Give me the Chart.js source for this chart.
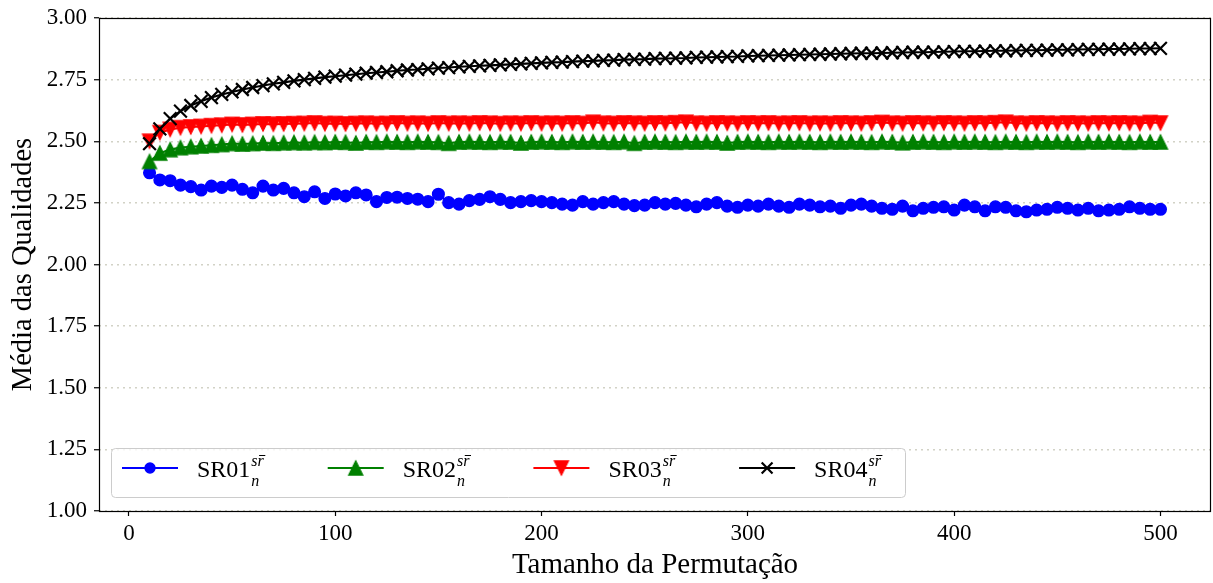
<!DOCTYPE html>
<html>
<head>
<meta charset="utf-8">
<script src="https://cdn.jsdelivr.net/npm/chart.js@4.4.0/dist/chart.umd.min.js"></script>
<style>
  html, body { margin: 0; padding: 0; background: #fff; }
  #wrap { width: 1213px; height: 583px; }
</style>
</head>
<body>
<div id="wrap"><canvas id="chart" width="1213" height="583"></canvas></div>
<script>
const sizes = [10,15,20,25,30,35,40,45,50,55,60,65,70,75,80,85,90,95,100,
  105,110,115,120,125,130,135,140,145,150,155,160,165,170,175,180,185,190,195,200,
  205,210,215,220,225,230,235,240,245,250,255,260,265,270,275,280,285,290,295,300,
  305,310,315,320,325,330,335,340,345,350,355,360,365,370,375,380,385,390,395,400,
  405,410,415,420,425,430,435,440,445,450,455,460,465,470,475,480,485,490,495,500];

const sr01 = [2.372,2.343,2.340,2.322,2.316,2.302,2.318,2.313,2.322,2.305,2.291,2.318,2.302,2.309,2.291,2.275,2.295,2.268,2.286,
  2.278,2.291,2.282,2.255,2.272,2.273,2.268,2.265,2.255,2.285,2.251,2.245,2.259,2.264,2.275,2.264,2.251,2.255,2.259,2.255,
  2.251,2.245,2.241,2.255,2.245,2.251,2.255,2.245,2.239,2.241,2.251,2.245,2.248,2.241,2.234,2.245,2.251,2.237,2.232,2.241,
  2.237,2.245,2.237,2.232,2.245,2.241,2.234,2.237,2.228,2.241,2.245,2.237,2.228,2.224,2.237,2.218,2.228,2.232,2.234,2.221,
  2.241,2.234,2.218,2.234,2.232,2.218,2.214,2.221,2.224,2.232,2.228,2.221,2.228,2.218,2.221,2.224,2.234,2.228,2.224,2.224];

const sr02 = [2.418,2.452,2.466,2.474,2.478,2.481,2.484,2.487,2.491,2.489,2.491,2.493,2.492,2.494,2.495,2.494,2.496,2.495,2.497,
  2.496,2.493,2.497,2.496,2.498,2.497,2.496,2.498,2.497,2.496,2.492,2.497,2.498,2.497,2.496,2.498,2.497,2.493,2.497,2.498,
  2.497,2.496,2.498,2.497,2.498,2.497,2.496,2.498,2.492,2.497,2.498,2.497,2.496,2.498,2.497,2.498,2.497,2.493,2.497,2.498,
  2.497,2.496,2.498,2.497,2.498,2.497,2.496,2.498,2.497,2.498,2.497,2.496,2.498,2.497,2.494,2.497,2.498,2.497,2.496,2.498,
  2.497,2.498,2.497,2.496,2.498,2.497,2.496,2.498,2.497,2.498,2.497,2.496,2.498,2.497,2.498,2.497,2.496,2.498,2.497,2.497];

const sr03 = [2.500,2.535,2.548,2.555,2.558,2.560,2.563,2.565,2.568,2.566,2.568,2.570,2.569,2.570,2.571,2.572,2.574,2.571,2.572,
  2.570,2.572,2.573,2.571,2.572,2.574,2.572,2.573,2.571,2.574,2.572,2.573,2.572,2.574,2.573,2.571,2.573,2.572,2.574,2.572,
  2.573,2.572,2.574,2.572,2.577,2.573,2.572,2.574,2.573,2.572,2.574,2.573,2.575,2.577,2.573,2.572,2.574,2.573,2.572,2.574,
  2.573,2.574,2.572,2.573,2.574,2.572,2.573,2.572,2.574,2.573,2.572,2.574,2.576,2.573,2.572,2.574,2.573,2.572,2.574,2.573,
  2.572,2.574,2.573,2.575,2.577,2.573,2.572,2.574,2.573,2.572,2.574,2.573,2.572,2.574,2.573,2.574,2.573,2.572,2.576,2.574];

const sr04 = [2.490,2.550,2.592,2.622,2.645,2.662,2.677,2.690,2.700,2.710,2.718,2.726,2.733,2.739,2.745,2.750,2.755,2.760,2.764,
  2.768,2.772,2.776,2.779,2.782,2.786,2.789,2.791,2.794,2.797,2.799,2.802,2.804,2.806,2.808,2.810,2.812,2.814,2.816,2.818,
  2.820,2.821,2.823,2.825,2.826,2.828,2.829,2.831,2.832,2.833,2.835,2.836,2.837,2.838,2.840,2.841,2.842,2.843,2.844,2.846,
  2.847,2.848,2.849,2.850,2.851,2.852,2.853,2.854,2.855,2.856,2.857,2.857,2.858,2.859,2.860,2.861,2.861,2.862,2.863,2.864,
  2.865,2.865,2.866,2.867,2.867,2.868,2.869,2.869,2.870,2.871,2.871,2.872,2.873,2.873,2.874,2.874,2.875,2.876,2.876,2.877];

const xTicks = [0, 100, 200, 300, 400, 500];
const seriesNames = ['SR01', 'SR02', 'SR03', 'SR04'];
const seriesColors = ['#0000ff', '#008000', '#ff0000', '#000000'];

const FONT = '"Liberation Serif", "Times New Roman", serif';

// matplotlib-like triangle marker, centred on its bounding box
function triangle(color, down){
    const c = document.createElement('canvas');
    c.width = 20; c.height = 20;
    const g = c.getContext('2d');
    const s = 7;
    g.beginPath();
    if(down){
        g.moveTo(10 - s, 10 - s); g.lineTo(10 + s, 10 - s); g.lineTo(10, 10 + s);
    } else {
        g.moveTo(10 - s, 10 + s); g.lineTo(10 + s, 10 + s); g.lineTo(10, 10 - s);
    }
    g.closePath();
    g.fillStyle = color;
    g.fill();
    g.lineWidth = 1.3;
    g.strokeStyle = color;
    g.stroke();
    return c;
}

function points(vals){
    return sizes.map(function(s, i){ return {x: s, y: vals[i]}; });
}

const upTri = triangle(seriesColors[1], false);
const downTri = triangle(seriesColors[2], true);

const markers = [
    {pointStyle: 'circle', pointRadius: 5.8, pointBorderWidth: 1.5},
    {pointStyle: upTri, pointRadius: 7, pointBorderWidth: 0},
    {pointStyle: downTri, pointRadius: 7, pointBorderWidth: 0},
    {pointStyle: 'crossRot', pointRadius: 9, pointBorderWidth: 2.2}
];
const values = [sr01, sr02, sr03, sr04];

const datasets = values.map(function(v, i){
    return Object.assign({
        label: seriesNames[i],
        data: points(v),
        borderColor: seriesColors[i],
        backgroundColor: seriesColors[i],
        pointBackgroundColor: seriesColors[i],
        pointBorderColor: seriesColors[i],
        borderWidth: 2.1,
        pointHoverRadius: 0,
        tension: 0,
        order: 4 - i
    }, markers[i]);
});

// box round the axes, drawn over the lines like matplotlib spines
const frame = {
    id: 'frame',
    afterDatasetsDraw(chart){
        const a = chart.chartArea;
        const ctx = chart.ctx;
        ctx.save();
        ctx.strokeStyle = '#000';
        ctx.lineWidth = 1.2;
        ctx.strokeRect(Math.round(a.left) + 0.5, Math.round(a.top) + 0.5,
            Math.round(a.right - a.left) - 1, Math.round(a.bottom - a.top));
        ctx.restore();
    }
};

// legend inside the axes, lower left, with the sup/sub-script labels
const legendBox = {
    id: 'legendBox',
    afterDraw(chart){
        const ctx = chart.ctx;
        const x0 = 111, y0 = 448, w = 794, h = 49, r = 4;
        ctx.save();
        ctx.beginPath();
        ctx.roundRect(x0 + 0.5, y0 + 0.5, w, h, r);
        ctx.fillStyle = 'rgba(255,255,255,0.8)';
        ctx.fill();
        ctx.strokeStyle = '#cccccc';
        ctx.lineWidth = 1;
        ctx.stroke();

        const step = 205.7;
        const ly = 468;
        for(let i = 0; i < 4; i++){
            const lx = 122 + i * step;
            ctx.beginPath();
            ctx.moveTo(lx, ly);
            ctx.lineTo(lx + 56, ly);
            ctx.strokeStyle = seriesColors[i];
            ctx.lineWidth = 2.1;
            ctx.stroke();
            ctx.strokeStyle = seriesColors[i];
            ctx.fillStyle = seriesColors[i];
            ctx.lineWidth = markers[i].pointBorderWidth;
            Chart.helpers.drawPoint(ctx, {
                pointStyle: markers[i].pointStyle,
                radius: markers[i].pointRadius * 0.85,
                borderWidth: markers[i].pointBorderWidth,
                rotation: 0
            }, lx + 28, ly);

            const tx = 197 + i * step;
            ctx.fillStyle = '#000';
            ctx.textBaseline = 'alphabetic';
            ctx.textAlign = 'left';
            ctx.font = '24px ' + FONT;
            ctx.fillText(seriesNames[i], tx, 477);
            const tw = ctx.measureText(seriesNames[i]).width;
            ctx.font = 'italic 16px ' + FONT;
            const sx = tx + tw + 1;
            ctx.fillText('sr', sx, 466);
            ctx.fillText('n', sx, 486);
            // bar over the r
            const sw = ctx.measureText('s').width;
            const rw = ctx.measureText('r').width;
            ctx.beginPath();
            ctx.moveTo(sx + sw + 1.5, 455.5);
            ctx.lineTo(sx + sw + rw + 1.5, 455.5);
            ctx.strokeStyle = '#000';
            ctx.lineWidth = 1;
            ctx.stroke();
        }
        ctx.restore();
    }
};

const ctx = document.getElementById('chart');
new Chart(ctx, {
    type: 'line',
    data: {datasets: datasets},
    options: {
        responsive: false,
        animation: false,
        events: [],
        layout: {autoPadding: false, padding: {top: 18, right: 2, left: 0, bottom: 0}},
        plugins: {
            legend: {display: false},
            tooltip: {enabled: false},
            title: {display: false}
        },
        scales: {
            x: {
                type: 'linear',
                min: -14.5,
                max: 524.5,
                afterBuildTicks: function(scale){
                    scale.ticks = xTicks.map(function(v){ return {value: v}; });
                },
                afterFit: function(scale){
                    scale.height = 72;
                    scale.paddingLeft = 0;
                    scale.paddingRight = 0;
                },
                grid: {drawOnChartArea: false, drawTicks: true, tickLength: 5, tickColor: '#000', tickWidth: 1.2},
                border: {display: false},
                ticks: {color: '#000', padding: 4, maxRotation: 0, font: {family: FONT, size: 23},
                    callback: function(v){ return String(v); }},
                title: {display: true, text: 'Tamanho da Permutação', color: '#000',
                    font: {family: FONT, size: 29}, padding: {top: 0, bottom: 0}}
            },
            y: {
                min: 1,
                max: 3,
                afterFit: function(scale){
                    scale.width = 99;
                    scale.paddingTop = 0;
                    scale.paddingBottom = 0;
                },
                grid: {color: '#d2d2c6', lineWidth: 1.5, tickLength: 5, tickColor: '#000', tickWidth: 1.2, tickBorderDash: []},
                border: {display: false, dash: [2, 4]},
                ticks: {color: '#000', padding: 7, stepSize: 0.25, font: {family: FONT, size: 23},
                    callback: function(v){ return Number(v).toFixed(2); }},
                title: {display: true, text: 'Média das Qualidades', color: '#000',
                    font: {family: FONT, size: 28.5}, padding: {top: 6, bottom: 4}}
            }
        }
    },
    plugins: [frame, legendBox]
});
</script>
</body>
</html>
